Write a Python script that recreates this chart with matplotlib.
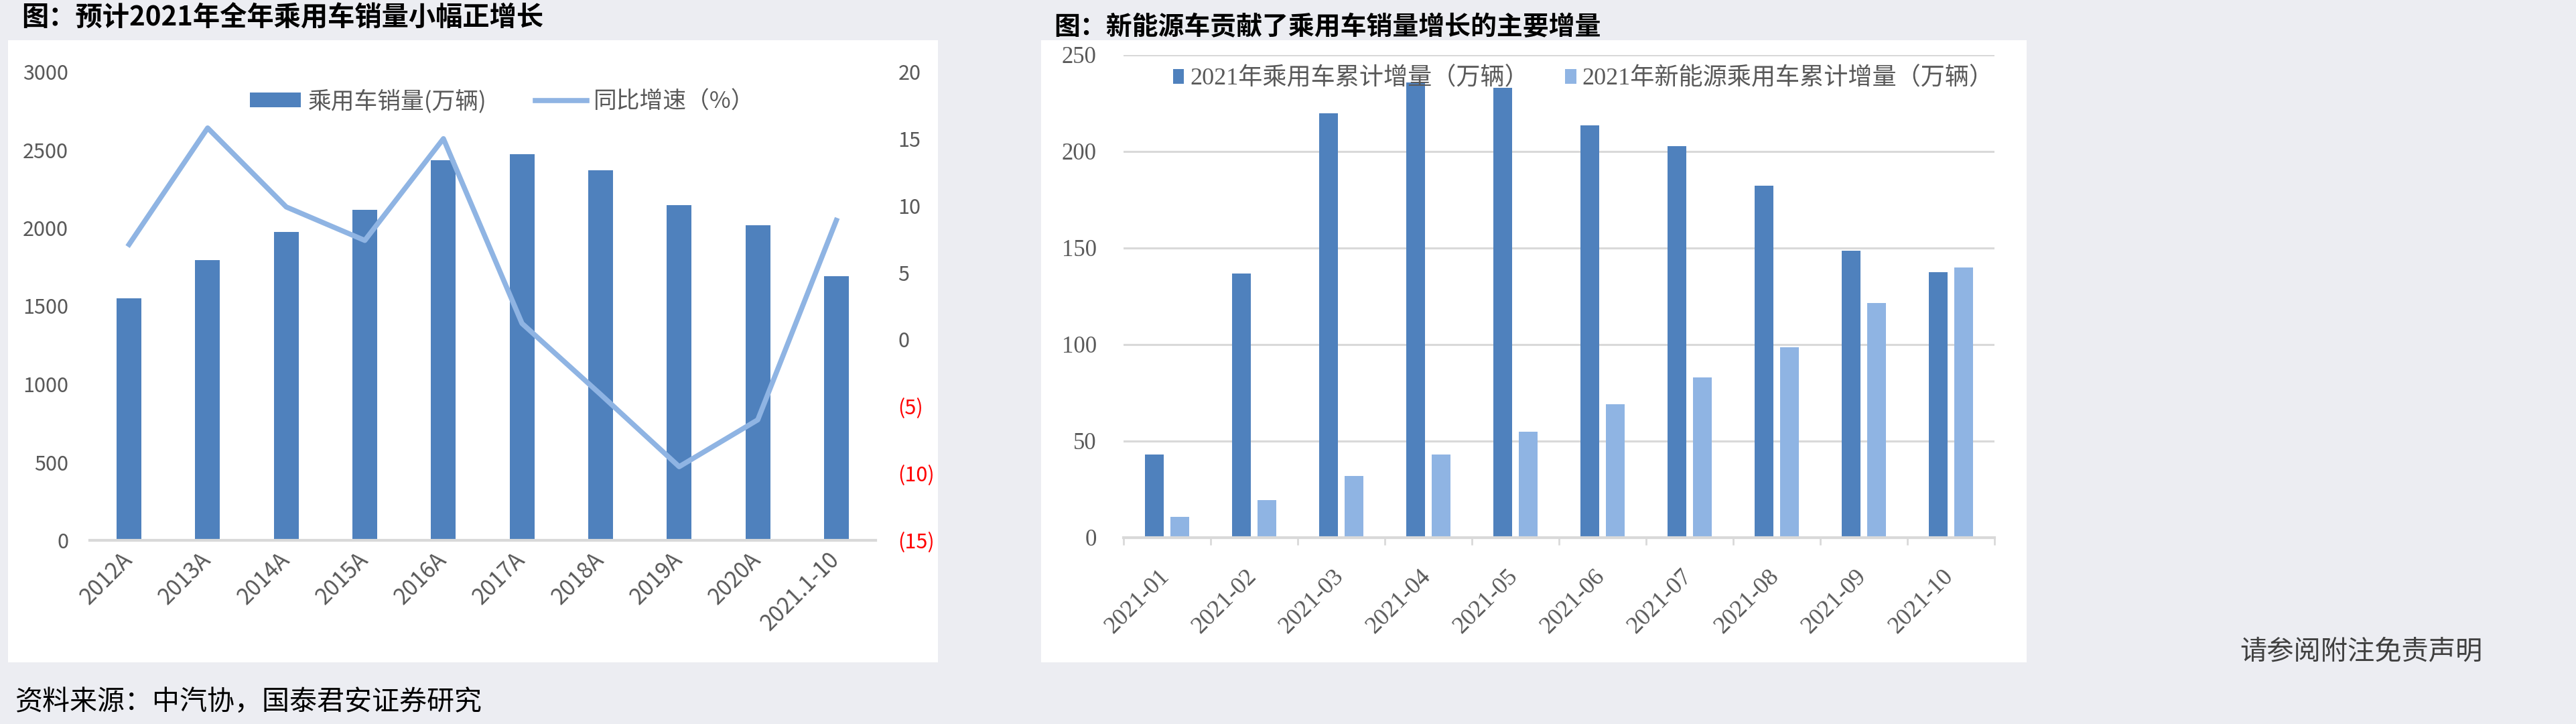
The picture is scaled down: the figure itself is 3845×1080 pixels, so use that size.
import matplotlib
matplotlib.use('Agg')
import matplotlib.pyplot as plt
import matplotlib.transforms as mtransforms
from matplotlib.patches import Rectangle
import numpy as np

plt.rcParams['font.family'] = ['Noto Sans CJK SC', 'DejaVu Sans']

# left chart data
years = ['2012A', '2013A', '2014A', '2015A', '2016A', '2017A', '2018A', '2019A', '2020A', '2021.1-10']
sales = [1551, 1794, 1973, 2116, 2434, 2472, 2370, 2144, 2017, 1690]
growth = [7.1, 15.8, 9.9, 7.4, 15.0, 1.2, -4.1, -9.5, -6.0, 8.9]
growth_ticks = [-15, -10, -5, 0, 5, 10, 15, 20]
growth_ticklabels = ['(15)', '(10)', '(5)', '0', '5', '10', '15', '20']

# right chart data
months = ['2021-01', '2021-02', '2021-03', '2021-04', '2021-05',
          '2021-06', '2021-07', '2021-08', '2021-09', '2021-10']
pv_cum = [43.1, 136.7, 219.8, 235.9, 233.0, 213.4, 202.7, 182.4, 148.6, 137.5]
nev_cum = [10.9, 19.3, 32.1, 42.9, 54.7, 69.1, 82.9, 98.7, 121.5, 139.9]

DARK = '#4F81BD'
LIGHT = '#8FB4E3'
GREY = '#595959'
GRID = '#D9D9D9'

W, H = 3845, 1080
fig = plt.figure(figsize=(W / 100, H / 100), dpi=100)
fig.patch.set_facecolor('#ECEDF2')

def px_rect(x0, y0, x1, y1):
    return [x0 / W, 1 - y1 / H, (x1 - x0) / W, (y1 - y0) / H]

# white panels
for r in (px_rect(12, 60, 1400, 988), px_rect(1554, 60, 3025, 988)):
    fig.patches.append(Rectangle((r[0], r[1]), r[2], r[3], transform=fig.transFigure,
                                 facecolor='white', edgecolor='none', zorder=-5))

def shift_labels(labels, dx_px):
    off = mtransforms.ScaledTranslation(dx_px / 100, 0, fig.dpi_scale_trans)
    for lb in labels:
        lb.set_transform(lb.get_transform() + off)

# ---------------- left chart ----------------
ax = fig.add_axes(px_rect(134, 107, 1307, 806))
ax.set_facecolor('none')
x = np.arange(len(years))
ax.bar(x, sales, width=0.315, color=DARK, zorder=2, label='乘用车销量(万辆)')
ax.set_xlim(-0.5, len(years) - 0.5)
ax.set_ylim(0, 3000)
ax.set_yticks(range(0, 3001, 500))
for s in ['top', 'right', 'left']:
    ax.spines[s].set_visible(False)
ax.spines['bottom'].set_color(GRID)
ax.spines['bottom'].set_linewidth(3)
ax.tick_params(axis='y', length=0, pad=23, labelsize=22, labelcolor=GREY)
ax.tick_params(axis='x', length=0, pad=8, labelsize=24, labelcolor=GREY)
ax.set_xticks(x)
ax.set_xticklabels(years, rotation=45, ha='right', rotation_mode='default')
shift_labels(ax.get_xticklabels(), 12)

ax2 = ax.twinx()
ax2.plot(x, growth, color=LIGHT, lw=5.5, solid_joinstyle='round', zorder=3, label='同比增速（%）')
ax2.set_ylim(-15, 20)
ax2.set_yticks(growth_ticks)
ax2.set_yticklabels(growth_ticklabels)
for s in ax2.spines.values():
    s.set_visible(False)
ax2.tick_params(axis='y', length=0, pad=24, labelsize=22, labelcolor=GREY)
for lb, v in zip(ax2.get_yticklabels(), growth_ticks):
    if v < 0:
        lb.set_color('red')

h1, l1 = ax.get_legend_handles_labels()
h2, l2 = ax2.get_legend_handles_labels()
leg = ax2.legend(h1 + h2, l1 + l2, loc='center', bbox_to_anchor=(0.525, 0.936), ncol=2,
                 frameon=False, fontsize=25, handlelength=2.2, handleheight=0.6,
                 handletextpad=0.3, columnspacing=2.1)
for t in leg.get_texts():
    t.set_color(GREY)

# ---------------- right chart ----------------
serif = ['Liberation Serif', 'Noto Sans CJK SC']
bx = fig.add_axes(px_rect(1677, 82, 2977, 802))
bx.set_facecolor('none')
xm = np.arange(len(months))
bx.bar(xm - 0.145, pv_cum, width=0.22, color=DARK, zorder=2, label='2021年乘用车累计增量（万辆）')
bx.bar(xm + 0.145, nev_cum, width=0.22, color=LIGHT, zorder=2, label='2021年新能源乘用车累计增量（万辆）')
bx.set_xlim(-0.5, len(months) - 0.5)
bx.set_ylim(0, 250)
bx.set_yticks(range(0, 251, 50))
bx.yaxis.grid(True, color=GRID, lw=2.2, zorder=1)
bx.set_axisbelow(True)
for s in ['top', 'right', 'left']:
    bx.spines[s].set_visible(False)
bx.spines['bottom'].set_color(GRID)
bx.spines['bottom'].set_linewidth(3)
bx.set_xticks(xm)
bx.set_xticklabels(months, rotation=45, ha='right', family=serif, fontsize=26, color=GREY)
bx.set_xticks(np.arange(-0.5, len(months), 1), minor=True)
bx.tick_params(axis='x', which='major', length=0, pad=30)
bx.tick_params(axis='x', which='minor', length=8, width=2, color=GRID)
bx.tick_params(axis='y', length=0, pad=29)
for lb in bx.get_yticklabels():
    lb.set_family(serif)
    lb.set_fontsize(25)
    lb.set_color(GREY)
shift_labels(bx.get_xticklabels(), 10)

leg2 = bx.legend(loc='center', bbox_to_anchor=(0.528, 0.951), ncol=2, frameon=False,
                 prop={'family': serif, 'size': 26}, handlelength=0.45, handleheight=0.55,
                 handletextpad=0.25, columnspacing=1.5)
for t in leg2.get_texts():
    t.set_color(GREY)

# ---------------- texts ----------------
fig.text(32 / W, 1 - 27 / H, '图：预计2021年全年乘用车销量小幅正增长', fontsize=29,
         fontweight='bold', color='black', va='center', ha='left')
fig.text(1573 / W, 1 - 41 / H, '图：新能源车贡献了乘用车销量增长的主要增量', fontsize=28,
         fontweight='bold', color='black', va='center', ha='left')
fig.text(23 / W, 1 - 1047 / H, '资料来源：中汽协，国泰君安证券研究', fontsize=29.5,
         color='black', va='center', ha='left')
fig.text(3706 / W, 1 - 972 / H, '请参阅附注免责声明', fontsize=29,
         color='#404040', va='center', ha='right')

fig.savefig('out.png', dpi=100, facecolor=fig.get_facecolor())
